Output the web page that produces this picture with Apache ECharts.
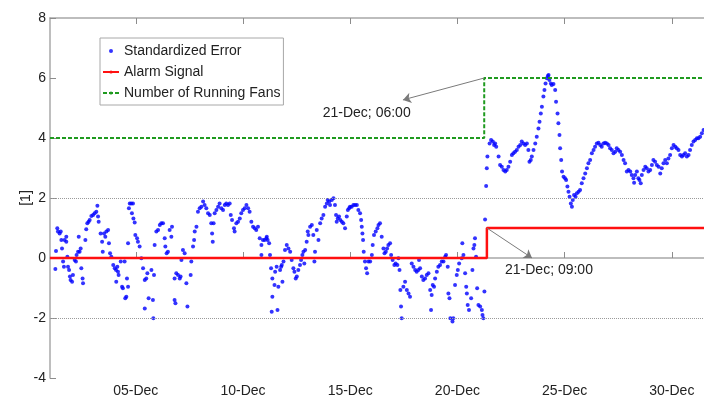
<!DOCTYPE html>
<html>
<head>
<meta charset="utf-8">
<script src="https://cdn.jsdelivr.net/npm/echarts@6/dist/echarts.min.js"></script>
<style>
  html, body { margin: 0; padding: 0; background: #fff; }
  #container { width: 704px; height: 401px; }
</style>
</head>
<body>
<div id="container"></div>
<script>
// x values: day of December (1.0 = 01-Dec 00:00)
const xTicks = [5, 10, 15, 20, 25, 30];

// standardized error
const errDay = [
  1.25, 1.28, 1.34, 1.37, 1.45, 1.50, 1.53, 1.56, 1.61, 1.65, 1.68, 1.76, 1.76, 1.81, 1.84, 1.89, 1.93, 1.96,
  2.03, 2.07, 2.15, 2.21, 2.24, 2.31, 2.34, 2.38, 2.43, 2.46, 2.52, 2.54, 2.65, 2.69, 2.74, 2.80, 2.85, 2.93,
  3.01, 3.08, 3.16, 3.21, 3.24, 3.27, 3.36, 3.43, 3.46, 3.52, 3.58, 3.63, 3.71, 3.75, 3.80, 3.86, 3.95,
  4.02, 4.08, 4.14, 4.09, 4.17, 4.20, 4.30, 4.36, 4.40, 4.48, 4.51, 4.56, 4.59, 4.64, 4.64, 4.68, 4.72, 4.79,
  4.87, 4.82, 4.89, 4.95, 4.98, 5.06, 5.10, 5.18, 5.26, 5.34, 5.42, 5.49, 5.54, 5.60, 5.73, 5.80, 5.85, 5.42,
  5.82, 5.88, 5.96, 6.04, 6.12, 6.19, 6.27, 6.35, 6.38, 6.44, 6.50, 6.58, 6.66, 6.69, 6.81, 6.89, 6.97, 7.05,
  7.09, 7.13, 7.20, 7.28, 7.36, 7.41, 6.81, 6.85, 7.56, 7.59, 7.67, 7.72, 7.75, 7.83, 7.90, 7.98, 8.06, 8.14,
  8.21, 8.29, 8.37, 8.45, 8.52, 8.56, 8.59, 8.63, 8.68, 8.76, 8.84, 8.91, 8.99, 9.07, 9.15, 9.22, 9.30, 9.38,
  9.43, 9.49, 9.58, 9.61, 9.69, 9.77, 9.85, 9.92, 10.00, 10.08, 10.16, 10.24, 10.31, 10.39, 10.47, 10.55,
  10.62, 10.70, 10.78, 10.86, 10.86, 10.93, 11.01, 11.09,
  11.11, 11.15, 11.22, 11.26, 11.31, 11.37, 11.37, 11.34, 11.47, 11.50, 11.57, 11.61, 11.65, 11.73, 11.78,
  11.81, 11.84, 11.89, 11.96, 12.04, 12.12, 12.20, 12.27, 12.35, 12.40, 12.46, 12.51, 12.58, 12.66, 12.71,
  12.77, 12.82, 12.86, 12.90, 12.97, 13.02, 13.05, 13.13, 13.21, 13.28, 13.33, 13.36, 13.44, 13.52, 13.60,
  13.67, 13.75, 13.83, 13.91, 13.95, 14.02, 14.06, 14.14, 14.22, 14.29, 14.34, 14.37, 14.42, 14.48, 14.54,
  14.61, 14.68, 14.76, 14.84, 14.89, 14.95, 14.99, 15.07, 15.15, 15.23, 15.31, 15.38, 15.46, 15.51, 15.54,
  15.57, 15.60, 15.63, 15.69, 15.74, 15.79, 15.85, 15.93, 16.01, 16.05, 16.11, 16.19, 16.27, 16.32, 16.39,
  16.47, 16.55, 16.60, 16.66, 16.72, 16.78, 16.86, 16.91, 16.98, 17.06, 17.12, 17.20, 17.25, 17.30, 17.34,
  17.37, 17.40, 17.48, 17.56, 17.64, 17.72, 17.79, 17.87, 17.95, 18.03, 18.10, 18.18, 18.21, 18.26, 18.34,
  18.41, 18.49, 18.57, 18.65, 18.73, 18.77, 18.80, 18.85, 18.91, 18.96, 19.04, 19.11, 19.19, 19.27, 19.35,
  19.43, 19.47, 19.55, 19.58, 19.63, 19.67, 19.77, 19.81, 19.89, 19.97, 20.02, 20.08, 20.20, 20.23, 20.28,
  20.36, 20.41, 20.44, 20.48, 20.54, 20.64, 20.70, 20.75, 20.79, 20.82, 20.87, 20.92, 20.98, 21.06, 21.14,
  21.17, 21.21, 21.26, 21.29,
  21.34, 21.37, 21.40, 21.50, 21.57, 21.65, 21.71, 21.76, 21.81, 21.92, 21.99, 22.07, 22.15, 22.23, 22.30,
  22.38, 22.46, 22.54, 22.61, 22.69, 22.77, 22.85, 22.93, 23.00, 23.08, 23.16, 23.24, 23.31, 23.36, 23.42,
  23.47, 23.55, 23.63, 23.70, 23.78, 23.83, 23.89, 23.94, 24.01, 24.06, 24.11, 24.17, 24.22, 24.25, 24.29,
  24.36, 24.40, 24.48, 24.56, 24.60, 24.67, 24.71, 24.76, 24.79, 24.84, 24.88, 24.95, 25.02, 25.07, 25.13,
  25.18, 25.23, 25.29, 25.34, 25.38, 25.44, 25.51, 25.57, 25.65, 25.72, 25.80, 25.88, 25.96, 26.04, 26.11,
  26.19, 26.27, 26.35, 26.42, 26.50, 26.58, 26.66, 26.73, 26.81, 26.89, 26.97, 27.05, 27.12, 27.20, 27.28,
  27.36, 27.43, 27.51, 27.59, 27.67, 27.75, 27.82, 27.90, 27.98, 28.06, 28.13, 28.21, 28.24, 28.29, 28.37,
  28.44, 28.49, 28.55, 28.60, 28.68, 28.76, 28.83, 28.91, 28.99, 29.07, 29.14, 29.22, 29.30, 29.38, 29.46,
  29.53, 29.61, 29.69, 29.77, 29.84, 29.92, 30.00, 30.08, 30.16, 30.23, 30.31, 30.39, 30.47, 30.54, 30.62,
  30.70, 30.78, 30.85, 30.93, 31.01, 31.09, 31.17, 31.24, 31.32, 31.40, 31.48
];
const errVal = [
  -0.37, 0.23, 0.99, 0.88, 0.82, 0.88, 0.60, 0.32, -0.12, -0.29, 0.60, 0.71, 0.54, 0.04, -0.29, -0.40, -0.62, -0.73,
  -0.79, -0.57, -0.07, -0.12, 0.10, 0.21, 0.71, 0.21, 0.32, -0.34, -0.68, -0.84, 0.60, 0.96, 1.16, 1.21, 1.27, 1.40,
  1.43, 1.49, 1.54, 1.74, 1.38, 1.21, 0.82, 0.54, 0.21, 0.82, 0.71, 0.88, 0.93, 0.49, 0.16, 0.04, -0.23,
  -0.34, -0.40, -0.29, -0.79, -0.46, -0.57, -0.12, -0.96, -1.01, -0.12, -1.34, -1.29, -0.68, -0.96, 0.49, 1.66, 1.82, 1.82,
  1.82, 1.49, 1.32, 1.18, 0.77, 0.66, 0.54, 0.38, -0.01, -0.34, -0.73, -0.68, -0.51, -1.34, -0.40, -1.40, -0.57, -1.68,
  -2.01, 0.43, 0.88, 0.93, 1.10, 1.16, 1.16, 0.66, 0.38, 0.16, 0.21, 0.93, 0.71, 1.04, -0.68, -0.51, -0.57, -0.68,
  -0.62, -0.07, 0.27, 0.16, -0.84, -1.62, -1.40, -1.51, -0.57, -0.12, 0.38, 0.60, 0.88, 1.04, 1.54, 1.66, 1.71, 1.88,
  1.77, 1.66, 1.49, 1.43, 1.16, 0.82, 0.54, 1.16, 1.49, 1.60, 1.71, 1.82, 1.66, 1.60, 1.77, 1.82, 1.77, 1.82,
  1.43, 1.27, 0.99, 0.88, 1.16, 1.21, 1.32, 1.49, 1.60, 1.66, 1.77, 1.66, 1.54, 1.21, 1.04, 0.99,
  0.93, 1.04, 0.66, 0.43, 0.10, 0.60, 0.60, 0.66,
  0.71, 0.60, 0.49, 0.10, -0.34, -0.68, -1.29, -1.79, -0.90, -0.46, -0.29, -1.73, -0.96, -0.40, -0.29,
  -0.23, -0.79, -0.12, 0.27, 0.43, 0.32, 0.21, -0.07, -0.34, -0.46, -0.68, -0.62, -0.40, -0.23, -0.07,
  0.10, 0.21, -0.18, 0.27, 0.54, 0.88, 0.77, 1.04, 1.10, 0.77, -0.12, 0.21, 0.93, 0.60, 1.16,
  1.32, 1.43, 1.71, 1.82, 1.93, 1.88, 1.77, 1.93, 1.99, 1.77, 1.43, 1.21, 1.32, 1.38, 1.27,
  1.21, 1.16, 0.99, 1.38, 1.60, 1.66, 1.71, 1.71, 1.77, 1.77, 1.77, 1.60, 1.49, 1.27, 1.04,
  0.82, 0.60, 0.21, -0.12, -0.34, -0.51, -0.12, -0.12, 0.10, 0.43, 0.77, 0.88, 0.99, 1.10, 1.16,
  0.71, 0.32, 0.16, 0.21, 0.32, 0.43, 0.49, 0.10, -0.07, -0.23, -0.18, -0.23, -0.01, -0.40, -1.07,
  -1.62, -2.01, -0.96, -0.79, -1.07, -1.18, -1.29, -0.18, -0.29, -0.40, -0.46, -0.40, -0.07, -0.34, -0.62,
  -0.73, -0.68, -0.57, -0.51, -1.07, -1.73, -1.23, -0.90, -0.96, -0.68, -0.46, -0.29, -0.23, -0.12, -0.12,
  0.04, 0.10, -0.29, -1.18, -1.34, -2.01, -2.12, -2.01, -0.90, -0.57, -0.40, -0.18, -0.01, 0.49, 0.10,
  -0.51, -0.96, -1.18, -1.57, -1.73, -1.34, -0.40, 0.32, 0.43, 0.66, 0.04, -1.01, -1.57, -1.62, -1.73,
  -1.90, -2.01, -1.12, 1.28,
  2.40, 2.99, 3.38, 3.82, 3.93, 3.88, 3.77, 3.82, 3.71, 3.38, 3.10, 3.04, 2.93, 2.88, 2.93,
  3.04, 3.21, 3.43, 3.49, 3.54, 3.60, 3.71, 3.77, 3.88, 3.82, 3.77, 3.82, 3.60, 3.21, 3.27,
  3.38, 3.60, 3.82, 4.04, 4.32, 4.54, 4.82, 5.04, 5.38, 5.60, 5.82, 5.99, 6.07, 6.10, 5.93,
  5.82, 5.77, 5.80, 5.60, 5.21, 4.82, 4.49, 4.10, 3.66, 3.27, 2.88, 2.71, 2.66, 2.60, 2.38,
  2.21, 2.04, 1.82, 1.71, 1.93, 2.10, 2.04, 2.16, 2.21, 2.27, 2.49, 2.66, 2.82, 2.99, 3.16,
  3.27, 3.49, 3.60, 3.71, 3.82, 3.84, 3.77, 3.71, 3.82, 3.84, 3.82, 3.77, 3.66, 3.60, 3.49,
  3.54, 3.66, 3.60, 3.54, 3.43, 3.27, 3.16, 2.88, 2.93, 2.88, 2.77, 2.66, 2.51, 2.77, 2.88,
  2.66, 2.60, 2.49, 2.77, 2.93, 3.04, 2.99, 2.88, 2.93, 3.10, 3.27, 3.21, 3.10, 3.04, 2.82,
  2.99, 3.16, 3.27, 3.16, 3.32, 3.43, 3.66, 3.77, 3.71, 3.66, 3.60, 3.43, 3.38, 3.43, 3.49,
  3.38, 3.43, 3.60, 3.77, 3.88, 3.93, 3.99, 3.99, 4.04, 4.16, 4.27
];

// step signals
const alarmDay = [1, 21.375, 21.375, 32];
const alarmVal = [0, 0, 1, 1];
const fansDay = [1, 21.25, 21.25, 32];
const fansVal = [4, 4, 6, 6];

// dotted reference lines
const refLevels = [-2, 2];

// annotations: text, arrow start, arrow head, text position
const noteText = ["21-Dec; 06:00", "21-Dec; 09:00"];
const noteFrom = [[21.25, 6], [21.375, 1]];
const noteTo = [[17.46, 5.27], [23.48, 0.0]];
const noteAt = [[15.77, 4.83], [24.27, -0.4]];

function pairs(xs, ys) {
  const out = [];
  for (let i = 0; i < xs.length; i++) out.push([xs[i], ys[i]]);
  return out;
}

const FONT = "Liberation Sans, Arial, sans-serif";
const AXIS_COLOR = "#a8a8a8";
const TICK_COLOR = "#8c8c8c";
const TEXT_COLOR = "#222";

function echartSetup(container) {
  const myChart = echarts.init(document.getElementById(container));

  const refLines = refLevels.map(function (v) {
    return { yAxis: v };
  });
  const arrows = [];
  for (let i = 0; i < noteFrom.length; i++) {
    arrows.push([
      { coord: noteFrom[i], symbol: "none" },
      { coord: noteTo[i], symbol: "arrow" }
    ]);
  }
  const notes = [];
  for (let i = 0; i < noteText.length; i++) {
    notes.push({ coord: noteAt[i], value: noteText[i] });
  }

  // plot runs past the right edge of the picture: x range ends mid 31-Dec
  const xMin = 1,
    xMax = 31.5;

  const option = {
    animation: false,
    textStyle: { fontFamily: FONT },
    grid: { left: 50, top: 18, bottom: 23, right: 0 },
    legend: {
      data: ["Standardized Error", "Alarm Signal", "Number of Running Fans"],
      orient: "vertical",
      left: 100,
      top: 38,
      padding: [5, 3, 4, 2],
      itemGap: 5,
      itemWidth: 16,
      itemHeight: 4,
      borderColor: AXIS_COLOR,
      borderWidth: 1,
      backgroundColor: "#fff",
      textStyle: { fontSize: 14, color: TEXT_COLOR, fontFamily: FONT, lineHeight: 16 }
    },
    xAxis: [
      {
        type: "value",
        min: xMin,
        max: xMax,
        axisLine: { lineStyle: { color: AXIS_COLOR, width: 1.5 } },
        axisTick: { show: true, inside: true, length: 6, customValues: xTicks, lineStyle: { color: TICK_COLOR } },
        axisLabel: {
          customValues: xTicks,
          margin: 6,
          fontSize: 14,
          color: TEXT_COLOR,
          fontFamily: FONT,
          formatter: function (v) {
            return (v < 10 ? "0" + v : v) + "-Dec";
          }
        },
        splitLine: { show: false }
      },
      {
        type: "value",
        position: "top",
        min: xMin,
        max: xMax,
        axisLine: { lineStyle: { color: AXIS_COLOR, width: 1.5 } },
        axisTick: { show: true, inside: true, length: 6, customValues: xTicks, lineStyle: { color: TICK_COLOR } },
        axisLabel: { show: false },
        splitLine: { show: false }
      }
    ],
    yAxis: {
      type: "value",
      min: -4,
      max: 8,
      interval: 2,
      name: "[1]",
      nameLocation: "middle",
      nameRotate: 90,
      nameGap: 17,
      nameMoveOverlap: false,
      nameTextStyle: { fontSize: 14, color: TEXT_COLOR, fontFamily: FONT },
      axisLine: { show: true, lineStyle: { color: AXIS_COLOR, width: 1.5 } },
      axisTick: { show: true, inside: true, length: 6, lineStyle: { color: TICK_COLOR } },
      axisLabel: { margin: 4, fontSize: 14, color: TEXT_COLOR, fontFamily: FONT },
      splitLine: { show: false }
    },
    series: [
      {
        name: "Standardized Error",
        type: "scatter",
        symbol: "circle",
        symbolSize: 4,
        itemStyle: { color: "#0000ff" },
        data: pairs(errDay, errVal),
        markLine: {
          silent: true,
          symbol: ["none", "none"],
          label: { show: false },
          lineStyle: { color: "#9a9a9a", type: [1, 1], width: 1 },
          data: refLines
        }
      },
      {
        name: "Alarm Signal",
        type: "line",
        symbol: "none",
        lineStyle: { color: "#ff1010", width: 2.5 },
        itemStyle: { color: "#ff1010" },
        data: pairs(alarmDay, alarmVal)
      },
      {
        name: "Number of Running Fans",
        type: "line",
        symbol: "none",
        lineStyle: { color: "#1f9a1f", width: 2, type: [4, 2] },
        itemStyle: { color: "#1f9a1f" },
        data: pairs(fansDay, fansVal),
        markLine: {
          silent: true,
          symbolSize: 8,
          label: { show: false },
          lineStyle: { color: "#7a7a7a", type: "solid", width: 1 },
          data: arrows
        },
        markPoint: {
          silent: true,
          symbol: "circle",
          symbolSize: 0,
          label: {
            show: true,
            position: "inside",
            fontSize: 14,
            color: TEXT_COLOR,
            fontFamily: FONT,
            formatter: function (p) {
              return p.value;
            }
          },
          data: notes
        }
      }
    ]
  };
  myChart.setOption(option);
}

echartSetup("container");
</script>
</body>
</html>
